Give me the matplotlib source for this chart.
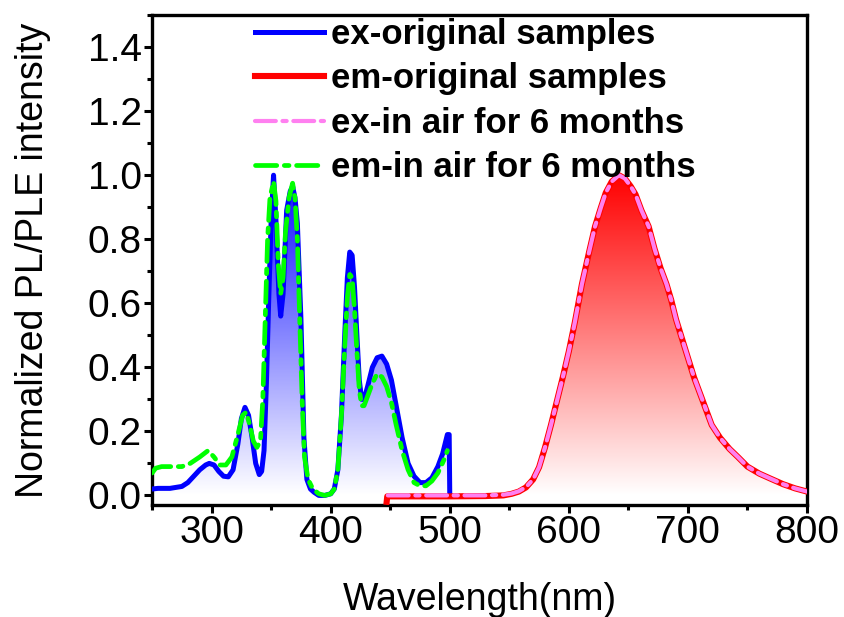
import numpy as np
import matplotlib
matplotlib.use("Agg")
import matplotlib.pyplot as plt
from matplotlib.ticker import MultipleLocator
from matplotlib.patches import Polygon

# ---------------- data ----------------
ex_orig_x = [250, 255, 260, 265, 270, 275, 280, 285, 290, 295, 298, 302, 306, 310, 314, 318,
             322, 325, 328, 331, 334, 337, 340, 342, 344, 346, 348, 350, 352, 354, 356.5, 358,
             360, 363, 366, 368, 370, 372, 375, 377.5, 380, 383, 386, 390, 395, 400, 403, 406,
             409, 412, 414, 416, 418, 420, 422, 424, 426, 428, 431, 435, 439, 443, 447, 451,
             455, 460, 465, 470, 475, 480, 485, 490, 494, 498, 499.5, 500]
ex_orig_y = [0.02, 0.022, 0.022, 0.022, 0.025, 0.028, 0.04, 0.06, 0.08, 0.095, 0.10, 0.095, 0.075, 0.06, 0.058, 0.08,
             0.16, 0.24, 0.275, 0.25, 0.18, 0.10, 0.065, 0.075, 0.14, 0.35, 0.62, 0.86, 1.0, 0.86, 0.63, 0.56,
             0.63, 0.89, 0.95, 0.965, 0.93, 0.85, 0.55, 0.18, 0.05, 0.02, 0.01, 0.0, 0.0, 0.005, 0.02, 0.08,
             0.25, 0.52, 0.68, 0.76, 0.75, 0.65, 0.50, 0.36, 0.30, 0.30, 0.34, 0.40, 0.43, 0.435, 0.41, 0.36,
             0.28, 0.18, 0.10, 0.06, 0.04, 0.04, 0.055, 0.09, 0.13, 0.19, 0.19, 0.0]

em_air_x = [250, 253, 258, 265, 275, 282, 290, 297, 302, 307, 312, 317, 322, 326, 329, 332, 335,
            338, 341, 343, 345, 347, 349, 352, 354, 356, 358, 360, 362, 365, 368, 370, 372, 374,
            376, 378, 381, 385, 390, 395, 400, 403, 406, 409, 412, 414, 416, 418, 420, 422, 424,
            426, 428, 431, 435, 439, 443, 447, 451, 455, 460, 465, 470, 475, 480, 485, 490, 495, 498]
em_air_y = [0.07, 0.085, 0.09, 0.09, 0.09, 0.10, 0.12, 0.14, 0.12, 0.095, 0.095, 0.12, 0.19, 0.25, 0.26, 0.22, 0.17,
            0.15, 0.17, 0.30, 0.55, 0.80, 0.93, 0.98, 0.92, 0.72, 0.63, 0.68, 0.82, 0.93, 0.975, 0.93, 0.80, 0.55,
            0.30, 0.12, 0.05, 0.02, 0.005, 0.0, 0.005, 0.02, 0.08, 0.25, 0.48, 0.62, 0.69, 0.68, 0.58, 0.45, 0.33,
            0.28, 0.28, 0.31, 0.35, 0.38, 0.37, 0.34, 0.29, 0.22, 0.14, 0.08, 0.04, 0.03, 0.03, 0.045, 0.07, 0.11, 0.14]

em_orig_x = [447, 447.5, 460, 500, 530, 545, 552, 558, 564, 570, 575, 580, 585, 589, 595, 600, 605,
             611, 617, 622, 627, 631, 636, 642, 647, 652, 656, 661, 667, 672, 677, 682, 686, 690,
             695, 700, 705, 710, 714, 720, 727, 735, 742, 750, 760, 769, 780, 790, 800]
em_orig_y = [-0.02, -0.003, -0.003, -0.003, -0.002, 0.0, 0.005, 0.012, 0.025, 0.05, 0.088, 0.15, 0.22, 0.28, 0.37, 0.45, 0.54,
             0.66, 0.76, 0.84, 0.90, 0.945, 0.98, 1.0, 0.99, 0.965, 0.94, 0.89, 0.84, 0.77, 0.71, 0.66, 0.61, 0.55,
             0.49, 0.43, 0.37, 0.32, 0.28, 0.22, 0.18, 0.145, 0.12, 0.09, 0.068, 0.053, 0.035, 0.022, 0.012]

ex_air_x = [448, 460, 500, 530, 545, 552, 558, 564, 570, 575, 580, 585, 589, 595, 600, 605,
            611, 617, 622, 627, 631, 636, 642, 647, 652, 656, 661, 667, 672, 677, 682, 686, 690,
            695, 700, 705, 710, 714, 720, 727, 735, 742, 750, 760, 769, 780, 790, 800]
ex_air_y = [0.0, 0.0, 0.0, 0.0, 0.002, 0.006, 0.013, 0.026, 0.05, 0.088, 0.15, 0.22, 0.28, 0.37, 0.45, 0.54,
            0.66, 0.76, 0.84, 0.90, 0.945, 0.98, 1.0, 0.99, 0.965, 0.94, 0.89, 0.84, 0.77, 0.71, 0.66, 0.61, 0.55,
            0.49, 0.43, 0.37, 0.32, 0.28, 0.22, 0.18, 0.145, 0.12, 0.09, 0.068, 0.053, 0.035, 0.022, 0.012]

legend_labels = ["ex-original samples", "em-original samples",
                 "ex-in air for 6 months", "em-in air for 6 months"]
x_ticks = [300, 400, 500, 600, 700, 800]
y_ticks = [0.0, 0.2, 0.4, 0.6, 0.8, 1.0, 1.2, 1.4]

# ---------------- style ----------------
plt.rcParams['font.family'] = ['Liberation Sans', 'DejaVu Sans']

fig = plt.figure(figsize=(8.45, 6.17), dpi=100)
ax = fig.add_axes([0.180, 0.1815, 0.775, 0.794])


def gradient_fill(ax, x, y, rgb, x0, x1):
    n = 256
    t = np.linspace(0, 1, n)[:, None]
    img = np.zeros((n, 1, 3))
    for k in range(3):
        img[:, :, k] = 1.0 + (rgb[k] - 1.0) * t
    poly_xy = np.column_stack([np.r_[x[0], x, x[-1]], np.r_[0, y, 0]])
    poly = Polygon(poly_xy, closed=True, facecolor='none', edgecolor='none')
    ax.add_patch(poly)
    im = ax.imshow(img, extent=[x0, x1, 0, 1], origin='lower', aspect='auto',
                   interpolation='bilinear', zorder=1)
    im.set_clip_path(poly)


gradient_fill(ax, ex_orig_x, ex_orig_y, (0.05, 0.05, 1.0), 250, 500)
gradient_fill(ax, em_orig_x, np.clip(em_orig_y, 0, None), (1.0, 0.0, 0.0), 447, 800)
ax.set_xlim(250, 800)
ax.set_ylim(-0.03, 1.5)

l1, = ax.plot(ex_orig_x, ex_orig_y, color='#0000ff', lw=3.6, zorder=3, solid_joinstyle='round')
l2, = ax.plot(em_orig_x, em_orig_y, color='#ff0000', lw=4.4, zorder=3, solid_joinstyle='round')
l3, = ax.plot(ex_air_x, ex_air_y, color='#ff80f0', lw=3.0, zorder=4,
              dashes=(5, 1.6, 1, 1.6), dash_capstyle='round')
l4, = ax.plot(em_air_x, em_air_y, color='#00ff00', lw=3.4, zorder=4,
              dashes=(4.5, 1.6, 1, 1.6), dash_capstyle='round')

ax.set_xticks(x_ticks)
ax.set_yticks(y_ticks)
ax.set_yticklabels([f"{v:.1f}" for v in y_ticks])
ax.xaxis.set_minor_locator(MultipleLocator(50))
ax.yaxis.set_minor_locator(MultipleLocator(0.1))
ax.tick_params(axis='both', which='major', direction='out', length=5.5, width=2.2,
               labelsize=28, pad=2)
ax.tick_params(axis='both', which='minor', direction='out', length=3.5, width=2.2)
for s in ax.spines.values():
    s.set_linewidth(2.4)

ax.set_xlabel("Wavelength(nm)", fontsize=27, labelpad=22)
ax.set_ylabel("Normalized PL/PLE intensity", fontsize=27, labelpad=26)

leg = ax.legend([l1, l2, l3, l4], legend_labels, loc='upper left',
                bbox_to_anchor=(255 / 845, 1 - 18 / 617), bbox_transform=fig.transFigure,
                frameon=False, borderpad=0, borderaxespad=0, handlelength=2.0,
                handletextpad=0.2, labelspacing=0.33,
                prop={'weight': 'bold', 'size': 25})

fig.savefig("out.png", dpi=100)
